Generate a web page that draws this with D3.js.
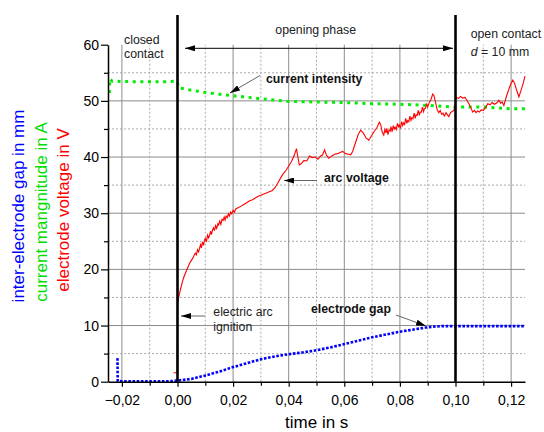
<!DOCTYPE html>
<html>
<head>
<meta charset="utf-8">
<script src="https://cdn.jsdelivr.net/npm/d3@7"></script>
<style>
  body { margin: 0; background: #fff; }
  svg { font-family: "Liberation Sans", Arial, sans-serif; }
</style>
</head>
<body>
<svg width="544" height="432"></svg>
<script>
// time in s, value
var voltage = [
  [-0.0014, 1.6], [-0.0001, 1.6], [0.0000, 14.0], [0.0005, 15.2], [0.0010, 16.3], [0.0015, 17.3],
  [0.0020, 18.2], [0.0025, 18.9], [0.0030, 19.5], [0.0035, 20.1], [0.0040, 20.7], [0.0045, 21.2],
  [0.0050, 21.6], [0.0055, 22.0], [0.0060, 22.5], [0.0064, 22.9], [0.0068, 22.6], [0.0072, 23.5],
  [0.0076, 23.1], [0.0080, 23.9], [0.0083, 24.4], [0.0086, 23.8], [0.0090, 24.9], [0.0094, 24.3],
  [0.0097, 25.2], [0.0100, 25.5], [0.0104, 24.9], [0.0108, 26.1], [0.0112, 25.6], [0.0115, 26.0],
  [0.0119, 26.8], [0.0122, 26.2], [0.0126, 27.0], [0.0130, 27.4], [0.0133, 26.9], [0.0137, 27.8],
  [0.0141, 27.3], [0.0145, 28.1], [0.0148, 27.9], [0.0152, 28.6], [0.0156, 28.0], [0.0160, 28.9],
  [0.0164, 28.7], [0.0168, 29.3], [0.0171, 28.8], [0.0175, 29.5], [0.0179, 29.2], [0.0183, 29.9],
  [0.0187, 29.5], [0.0191, 30.2], [0.0195, 29.9], [0.0200, 30.5], [0.0205, 30.2], [0.0210, 30.8],
  [0.0220, 31.0], [0.0230, 31.3], [0.0240, 31.6], [0.0250, 31.9], [0.0260, 32.2], [0.0270, 32.4],
  [0.0280, 32.7], [0.0290, 33.0], [0.0300, 33.2], [0.0310, 33.4], [0.0320, 33.6], [0.0330, 33.8],
  [0.0340, 34.0], [0.0350, 34.5], [0.0360, 35.3], [0.0370, 36.2], [0.0380, 37.0], [0.0390, 37.6],
  [0.0400, 38.4], [0.0410, 39.2], [0.0420, 40.3], [0.0428, 41.5], [0.0433, 40.0], [0.0438, 38.6],
  [0.0445, 38.8], [0.0455, 39.4], [0.0465, 39.3], [0.0475, 40.2], [0.0485, 39.9], [0.0495, 40.0],
  [0.0505, 39.6], [0.0515, 40.2], [0.0522, 40.4], [0.0529, 41.3], [0.0536, 40.3], [0.0544, 39.8],
  [0.0555, 40.2], [0.0565, 40.5], [0.0575, 40.6], [0.0585, 40.8], [0.0594, 41.0], [0.0605, 40.6],
  [0.0615, 40.5], [0.0623, 40.4], [0.0630, 41.0], [0.0640, 42.5], [0.0650, 44.0], [0.0659, 44.8],
  [0.0668, 44.3], [0.0678, 43.4], [0.0688, 43.0], [0.0698, 43.8], [0.0708, 44.6], [0.0718, 45.3],
  [0.0726, 46.2], [0.0731, 45.8], [0.0736, 44.5], [0.0742, 43.9], [0.0746, 44.9], [0.0750, 44.3],
  [0.0753, 45.1], [0.0757, 44.0], [0.0761, 44.8], [0.0765, 44.6], [0.0768, 45.4], [0.0772, 44.5],
  [0.0776, 45.6], [0.0780, 45.0], [0.0783, 45.3], [0.0787, 44.9], [0.0791, 46.0], [0.0795, 45.4],
  [0.0798, 45.7], [0.0802, 45.1], [0.0806, 46.3], [0.0810, 45.6], [0.0813, 46.1], [0.0817, 45.8],
  [0.0821, 46.9], [0.0825, 46.0], [0.0828, 46.5], [0.0832, 46.3], [0.0836, 47.3], [0.0840, 46.5],
  [0.0843, 47.0], [0.0847, 46.8], [0.0851, 47.8], [0.0855, 46.9], [0.0858, 47.5], [0.0862, 47.4],
  [0.0866, 48.3], [0.0870, 47.4], [0.0873, 48.0], [0.0877, 48.0], [0.0881, 48.9], [0.0885, 48.1],
  [0.0888, 48.6], [0.0892, 48.7], [0.0896, 49.4], [0.0900, 48.9], [0.0905, 49.6], [0.0912, 50.3],
  [0.0918, 51.2], [0.0922, 51.0], [0.0928, 49.8], [0.0934, 48.4], [0.0940, 47.9], [0.0945, 48.3],
  [0.0950, 47.6], [0.0955, 47.8], [0.0960, 47.3], [0.0966, 47.9], [0.0971, 47.5], [0.0976, 47.2],
  [0.0982, 47.9], [0.0988, 48.1], [0.0994, 48.3], [0.0998, 49.0], [0.1002, 50.7], [0.1010, 50.4],
  [0.1018, 50.8], [0.1026, 50.5], [0.1034, 50.6], [0.1040, 50.2], [0.1048, 49.5], [0.1055, 48.8],
  [0.1062, 48.0], [0.1068, 48.3], [0.1074, 47.9], [0.1080, 48.2], [0.1086, 48.0], [0.1092, 48.4],
  [0.1100, 48.3], [0.1108, 48.8], [0.1116, 49.5], [0.1124, 49.3], [0.1132, 49.7], [0.1140, 49.4],
  [0.1148, 49.6], [0.1156, 50.1], [0.1162, 49.6], [0.1168, 49.8], [0.1174, 49.2], [0.1182, 50.6],
  [0.1190, 51.8], [0.1198, 52.9], [0.1206, 53.7], [0.1212, 53.2], [0.1218, 52.2], [0.1228, 50.7],
  [0.1236, 51.9], [0.1244, 53.2], [0.1250, 54.4]
];

var current = [
  [-0.0245, 51.4], [-0.0244, 53.9], [-0.0235, 53.5], [-0.015, 53.4], [-0.005, 53.4], [-0.0002, 53.5],
  [0.0005, 52.3], [0.005, 51.9], [0.010, 51.5], [0.020, 50.9], [0.030, 50.4], [0.040, 49.9],
  [0.050, 49.8], [0.060, 49.7], [0.070, 49.5], [0.080, 49.4], [0.090, 49.2], [0.100, 48.9],
  [0.110, 48.9], [0.120, 48.6], [0.125, 48.6]
];

var gap = [
  [-0.0216, 4.2], [-0.0215, 0.1], [-0.010, 0.05], [-0.002, 0.1], [0.000, 0.2], [0.005, 0.5],
  [0.010, 1.1], [0.015, 1.8], [0.020, 2.6], [0.025, 3.3], [0.030, 4.0], [0.035, 4.5],
  [0.040, 4.9], [0.045, 5.2], [0.050, 5.6], [0.055, 6.1], [0.060, 6.7], [0.065, 7.3],
  [0.070, 7.9], [0.075, 8.4], [0.080, 8.9], [0.085, 9.3], [0.090, 9.7], [0.095, 9.9],
  [0.100, 9.9], [0.125, 9.9]
];

var xMajor = [-0.02, 0, 0.02, 0.04, 0.06, 0.08, 0.10, 0.12];
var xMinor = [-0.01, 0.01, 0.03, 0.05, 0.07, 0.09, 0.11];
var yMajor = [0, 10, 20, 30, 40, 50, 60];
var yMinor = [5, 15, 25, 35, 45, 55];
var phaseBounds = [0, 0.10];

var svg = d3.select("svg");

var x = d3.scaleLinear().domain([-0.025, 0.125]).range([108, 525]);
var y = d3.scaleLinear().domain([0, 60]).range([381.7, 44.7]);

// grid
var grid = svg.append("g");
grid.selectAll(".hmin").data(yMinor).enter().append("line")
    .attr("x1", x(-0.025)).attr("x2", x(0.125))
    .attr("y1", y).attr("y2", y)
    .attr("stroke", "#aaa").attr("stroke-dasharray", "2,2");
grid.selectAll(".hmaj").data(yMajor.slice(1, 6)).enter().append("line")
    .attr("x1", x(-0.025)).attr("x2", x(0.125))
    .attr("y1", y).attr("y2", y)
    .attr("stroke", "#8c8c8c");
grid.selectAll(".vmin").data(xMinor).enter().append("line")
    .attr("x1", x).attr("x2", x)
    .attr("y1", y(0)).attr("y2", y(60))
    .attr("stroke", "#aaa").attr("stroke-dasharray", "2,2");
grid.selectAll(".vmaj").data(xMajor).enter().append("line")
    .attr("x1", x).attr("x2", x)
    .attr("y1", y(0)).attr("y2", y(60))
    .attr("stroke", "#8c8c8c");

// series
var line = d3.line().x(function(d) { return x(d[0]); }).y(function(d) { return y(d[1]); });

svg.append("path").datum(gap).attr("d", line)
    .attr("fill", "none").attr("stroke", "#0000ff")
    .attr("stroke-width", 2.6).attr("stroke-dasharray", "2.6,1.6");

svg.append("path").datum(current).attr("d", line)
    .attr("fill", "none").attr("stroke", "#00ee00")
    .attr("stroke-width", 3).attr("stroke-dasharray", "3,4.6");

svg.append("path").datum(voltage).attr("d", line)
    .attr("fill", "none").attr("stroke", "#ff0000")
    .attr("stroke-width", 1.1);

// phase boundaries
svg.selectAll(".phase").data(phaseBounds).enter().append("line")
    .attr("x1", x).attr("x2", x)
    .attr("y1", 15).attr("y2", y(0))
    .attr("stroke", "#000").attr("stroke-width", 2.6);

// axes
svg.append("g").attr("transform", "translate(108,0)")
    .call(d3.axisLeft(y).tickValues(yMinor).tickSize(4).tickSizeOuter(0).tickFormat(""))
    .call(function(g) { g.select(".domain").remove(); });
svg.append("g").attr("transform", "translate(0,381.7)")
    .call(d3.axisBottom(x).tickValues(xMinor).tickSize(4).tickSizeOuter(0).tickFormat(""))
    .call(function(g) { g.select(".domain").remove(); });

var yAxis = svg.append("g").attr("transform", "translate(108,0)")
    .call(d3.axisLeft(y).tickValues(yMajor).tickSize(7).tickSizeOuter(0).tickPadding(2)
        .tickFormat(d3.format("d")));
var xAxis = svg.append("g").attr("transform", "translate(0,381.7)")
    .call(d3.axisBottom(x).tickValues(xMajor).tickSize(5).tickSizeOuter(0).tickPadding(8)
        .tickFormat(function(d) { return d3.format(".2f")(d).replace(".", ","); }));

[yAxis, xAxis].forEach(function(a) {
  a.attr("font-family", null).attr("font-size", null);
  a.selectAll("text").style("font-size", "14px").attr("fill", "#000");
  a.select(".domain").attr("stroke-width", 1.5);
});

svg.selectAll(".tick line").attr("stroke", "#000").attr("stroke-width", 1.2);

// axis titles
svg.append("text").attr("x", 316.7).attr("y", 427.5).attr("text-anchor", "middle")
    .style("font-size", "17px").text("time in s");

var yTitles = [
  { t: "inter-electrode gap in mm", c: "#0000ff", bx: 24, cy: 206 },
  { t: "current mangnitude in A", c: "#00dd00", bx: 47, cy: 212 },
  { t: "electrode voltage in V", c: "#ff0000", bx: 69, cy: 210 }
];
svg.selectAll(".ytitle").data(yTitles).enter().append("text")
    .attr("transform", function(d) { return "translate(" + d.bx + "," + d.cy + ") rotate(-90)"; })
    .attr("text-anchor", "middle").style("font-size", "17px")
    .attr("fill", function(d) { return d.c; })
    .text(function(d) { return d.t; });

// arrow markers
var defs = svg.append("defs");
defs.append("marker").attr("id", "head")
    .attr("viewBox", "0 0 10 6").attr("refX", 10).attr("refY", 3)
    .attr("markerWidth", 10).attr("markerHeight", 6).attr("markerUnits", "userSpaceOnUse")
    .attr("orient", "auto-start-reverse")
  .append("path").attr("d", "M0,0L10,3L0,6Z").attr("fill", "#000");

function arrow(x1, y1, x2, y2, color, both) {
  var l = svg.append("line").attr("x1", x1).attr("y1", y1).attr("x2", x2).attr("y2", y2)
      .attr("stroke", color).attr("stroke-width", 1)
      .attr("marker-end", "url(#head)");
  if (both) l.attr("marker-start", "url(#head)");
}

arrow(185, 48.3, 453, 48.3, "#000", true);
arrow(260, 75.5, 230, 93, "#666", false);
arrow(317, 180.5, 284, 180.5, "#666", false);
arrow(205, 316, 181, 316, "#666", false);
arrow(396, 315, 426, 326, "#666", false);

// annotations
function note(tx, ty, str, bold) {
  return svg.append("text").attr("x", tx).attr("y", ty)
      .style("font-size", "12.3px").style("font-weight", bold ? "bold" : null)
      .attr("fill", bold ? "#111" : "#222").text(str);
}
note(124, 43.5, "closed");
note(124, 58.3, "contact");
note(315.7, 34.4, "opening phase").attr("text-anchor", "middle");
note(470.7, 38.3, "open contact");
var dl = note(470.7, 55.7, "");
dl.append("tspan").style("font-style", "italic").text("d");
dl.append("tspan").text(" = 10 mm");
note(266, 83.3, "current intensity", true);
note(324, 181.7, "arc voltage", true);
note(213.3, 316, "electric arc");
note(213.3, 330.5, "ignition");
note(311, 312.7, "electrode gap", true);
</script>
</body>
</html>
